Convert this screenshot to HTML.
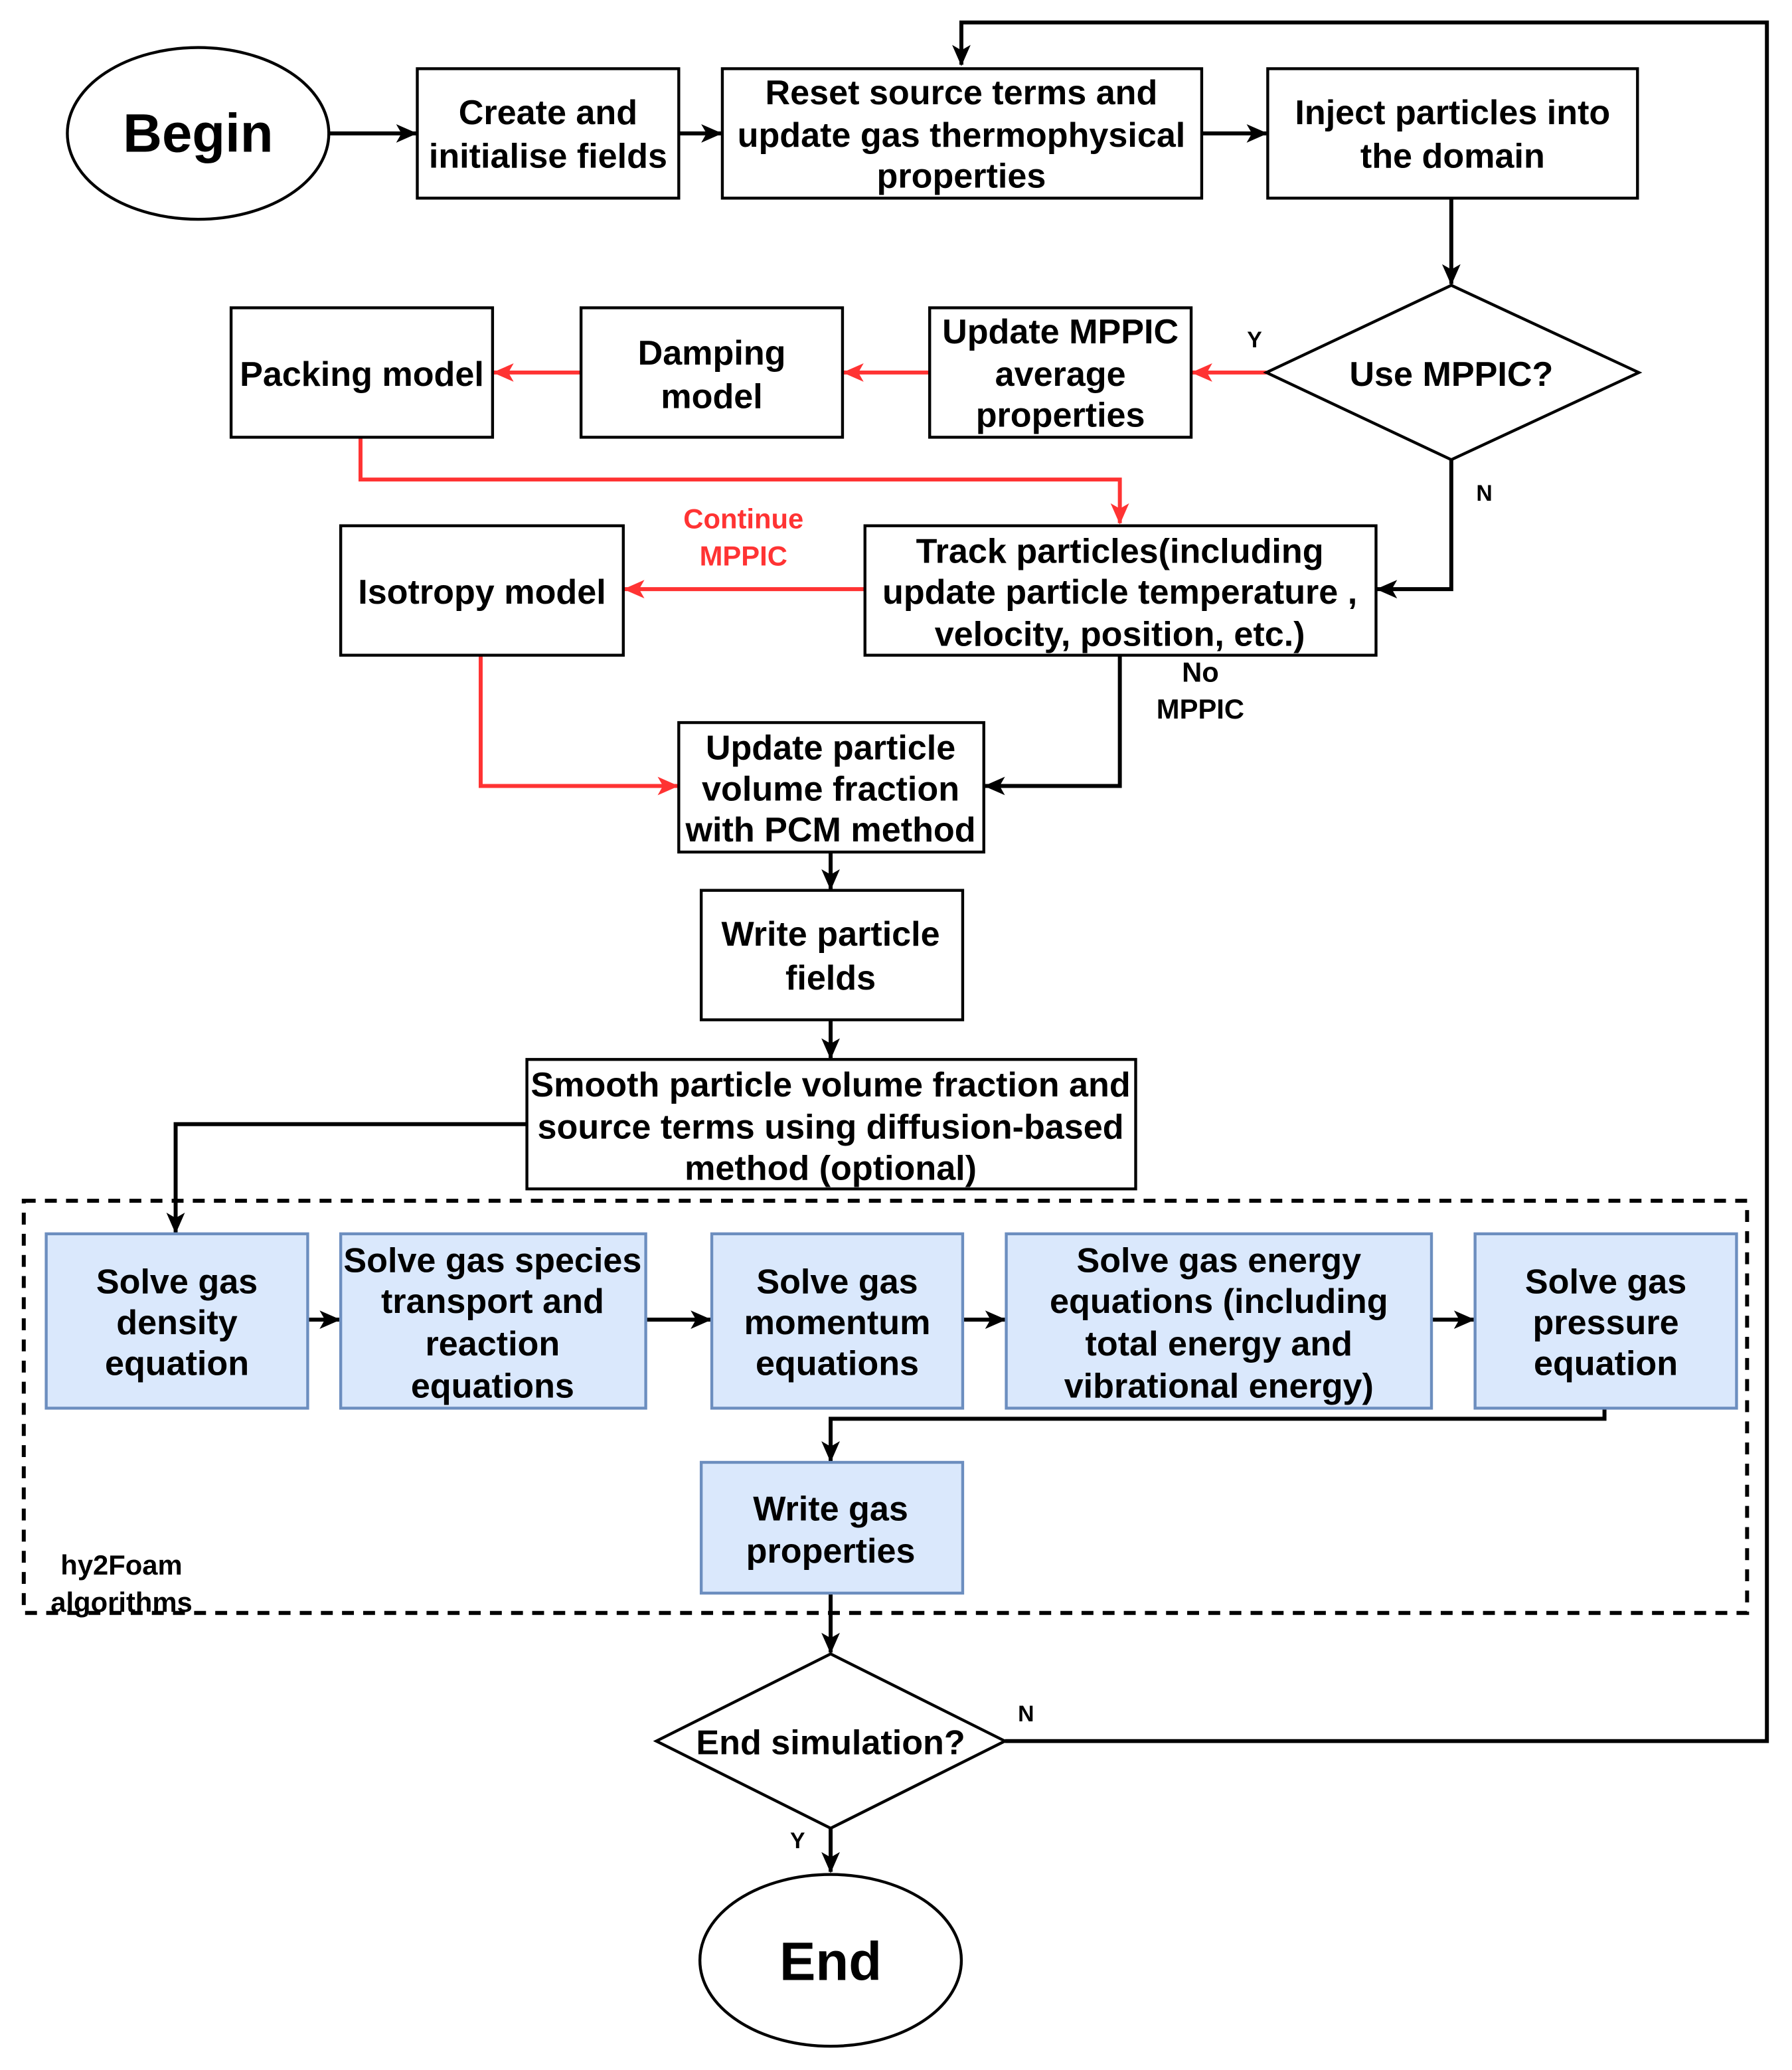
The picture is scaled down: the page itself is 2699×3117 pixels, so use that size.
<!DOCTYPE html>
<html><head><meta charset="utf-8"><style>
html,body{margin:0;padding:0;background:#fff;}
svg{display:block;}
text{font-family:"Liberation Sans",Arial,sans-serif;font-weight:bold;fill:#000;text-anchor:middle;}
.b{fill:#fff;stroke:#000;stroke-width:2.2;}
.g{fill:#dae8fc;stroke:#6c8ebf;stroke-width:2.2;}
.l{fill:none;stroke:#000;stroke-width:3;}
.r{fill:none;stroke:#ff3333;stroke-width:3;}
.t{font-size:26.2px;}
</style></head><body>
<svg width="2699" height="3117" viewBox="0 0 1357 1567" preserveAspectRatio="none" xmlns="http://www.w3.org/2000/svg">
<defs>
<marker id="ak" markerWidth="16" markerHeight="16" refX="15" refY="8" orient="auto" markerUnits="userSpaceOnUse" viewBox="0 0 16 16"><path d="M0,1 L16,8 L0,15 L4,8 Z" fill="#000"/></marker>
<marker id="ar" markerWidth="16" markerHeight="16" refX="15" refY="8" orient="auto" markerUnits="userSpaceOnUse" viewBox="0 0 16 16"><path d="M0,1 L16,8 L0,15 L4,8 Z" fill="#ff3333"/></marker>
</defs>
<rect x="18" y="909" width="1305" height="312" fill="none" stroke="#000" stroke-width="3" stroke-dasharray="9,7"/>

<g class="l" marker-end="url(#ak)">
<path d="M249,101 H315"/>
<path d="M514,101 H546"/>
<path d="M910,101 H959"/>
<path d="M1099,150 V215"/>
<path d="M1099,348 V446 H1043"/>
<path d="M848,496 V595 H746"/>
<path d="M629,645 V673"/>
<path d="M629,772 V801"/>
<path d="M399,851 H133 V933"/>
<path d="M233,999 H257"/>
<path d="M489,999 H538"/>
<path d="M729,999 H761"/>
<path d="M1084,999 H1116"/>
<path d="M1215,1066 V1074 H629 V1106"/>
<path d="M629,1206 V1251"/>
<path d="M761,1318 H1338 V17 H728 V49"/>
<path d="M629,1384 V1417"/>
</g>
<g class="r" marker-end="url(#ar)">
<path d="M959,282 H903"/>
<path d="M704,282 H639"/>
<path d="M440,282 H374"/>
<path d="M273,331 V363 H848 V396"/>
<path d="M655,446 H473"/>
<path d="M364,496 V595 H513"/>
</g>

<ellipse class="b" cx="150" cy="101" rx="99" ry="65"/>
<text x="150" y="115" style="font-size:41px">Begin</text>

<rect class="b" x="316" y="52" width="198" height="98"/>
<text class="t" x="415" y="94">Create and</text><text class="t" x="415" y="127">initialise fields</text>

<rect class="b" x="547" y="52" width="363" height="98"/>
<text class="t" x="728" y="79">Reset source terms and</text><text class="t" x="728" y="111">update gas thermophysical</text><text class="t" x="728" y="142">properties</text>

<rect class="b" x="960" y="52" width="280" height="98"/>
<text class="t" x="1100" y="94">Inject particles into</text><text class="t" x="1100" y="127">the domain</text>

<polygon class="b" points="1099,216 1241,282 1099,348 959,282"/>
<text class="t" x="1099" y="292">Use MPPIC?</text>
<text x="950" y="263" style="font-size:17px">Y</text>
<text x="1124" y="379" style="font-size:17px">N</text>

<rect class="b" x="704" y="233" width="198" height="98"/>
<text class="t" x="803" y="260">Update MPPIC</text><text class="t" x="803" y="292">average</text><text class="t" x="803" y="323">properties</text>

<rect class="b" x="440" y="233" width="198" height="98"/>
<text class="t" x="539" y="276">Damping</text><text class="t" x="539" y="309">model</text>

<rect class="b" x="175" y="233" width="198" height="98"/>
<text class="t" x="274" y="292">Packing model</text>

<rect class="b" x="655" y="398" width="387" height="98"/>
<text class="t" x="848" y="426">Track particles(including</text><text class="t" x="848" y="457">update particle temperature ,</text><text class="t" x="848" y="489">velocity, position, etc.)</text>

<rect class="b" x="258" y="398" width="214" height="98"/>
<text class="t" x="365" y="457">Isotropy model</text>

<text x="563" y="400" style="font-size:21px;fill:#ff3333">Continue</text>
<text x="563" y="428" style="font-size:21px;fill:#ff3333">MPPIC</text>
<text x="909" y="516" style="font-size:21px">No</text>
<text x="909" y="544" style="font-size:21px">MPPIC</text>

<rect class="b" x="514" y="547" width="231" height="98"/>
<text class="t" x="629" y="575">Update particle</text><text class="t" x="629" y="606">volume fraction</text><text class="t" x="629" y="637">with PCM method</text>

<rect class="b" x="531" y="674" width="198" height="98"/>
<text class="t" x="629" y="716">Write particle</text><text class="t" x="629" y="749">fields</text>

<rect class="b" x="399" y="802" width="461" height="98"/>
<text class="t" x="629" y="830">Smooth particle volume fraction and</text><text class="t" x="629" y="862">source terms using diffusion-based</text><text class="t" x="629" y="893">method (optional)</text>

<rect class="g" x="35" y="934" width="198" height="132"/>
<text class="t" x="134" y="979">Solve gas</text><text class="t" x="134" y="1010">density</text><text class="t" x="134" y="1041">equation</text>

<rect class="g" x="258" y="934" width="231" height="132"/>
<text class="t" x="373" y="963">Solve gas species</text><text class="t" x="373" y="994">transport and</text><text class="t" x="373" y="1026">reaction</text><text class="t" x="373" y="1058">equations</text>

<rect class="g" x="539" y="934" width="190" height="132"/>
<text class="t" x="634" y="979">Solve gas</text><text class="t" x="634" y="1010">momentum</text><text class="t" x="634" y="1041">equations</text>

<rect class="g" x="762" y="934" width="322" height="132"/>
<text class="t" x="923" y="963">Solve gas energy</text><text class="t" x="923" y="994">equations (including</text><text class="t" x="923" y="1026">total energy and</text><text class="t" x="923" y="1058">vibrational energy)</text>

<rect class="g" x="1117" y="934" width="198" height="132"/>
<text class="t" x="1216" y="979">Solve gas</text><text class="t" x="1216" y="1010">pressure</text><text class="t" x="1216" y="1041">equation</text>

<rect class="g" x="531" y="1107" width="198" height="99"/>
<text class="t" x="629" y="1151">Write gas</text><text class="t" x="629" y="1183">properties</text>

<text x="92" y="1192" style="font-size:21px">hy2Foam</text>
<text x="92" y="1220" style="font-size:21px">algorithms</text>

<polygon class="b" points="629,1252 761,1318 629,1384 497,1318"/>
<text class="t" x="629" y="1328">End simulation?</text>
<text x="777" y="1303" style="font-size:17px">N</text>
<text x="604" y="1399" style="font-size:17px">Y</text>

<ellipse class="b" cx="629" cy="1484" rx="99" ry="65"/>
<text x="629" y="1499" style="font-size:41px">End</text>
</svg>
</body></html>
